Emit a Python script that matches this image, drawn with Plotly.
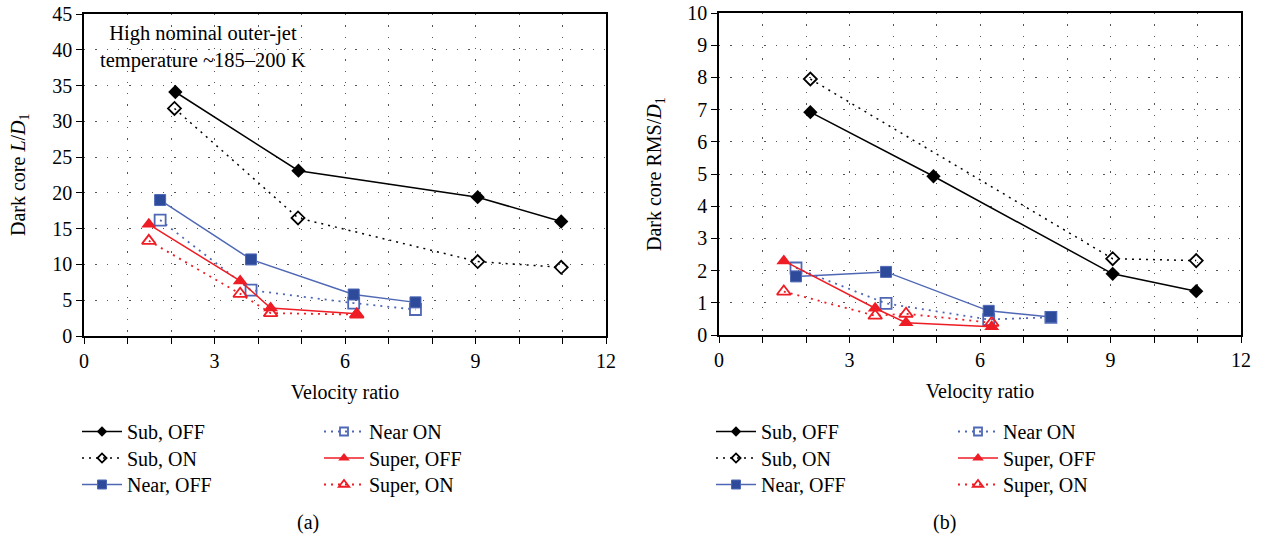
import plotly.graph_objects as go

# ---------------- data ----------------
# Panel (a): Dark core L/D1
a_sub_off_x = [2.1, 4.93, 9.05, 10.97]
a_sub_off_y = [34.1, 23.1, 19.4, 16.0]
a_sub_on_x = [2.08, 4.92, 9.05, 10.97]
a_sub_on_y = [31.8, 16.5, 10.4, 9.6]
a_near_off_x = [1.75, 3.84, 6.2, 7.62]
a_near_off_y = [19.0, 10.7, 5.8, 4.7]
a_near_on_x = [1.75, 3.84, 6.2, 7.62]
a_near_on_y = [16.2, 6.4, 4.6, 3.7]
a_super_off_x = [1.49, 3.59, 4.29, 6.27]
a_super_off_y = [15.6, 7.7, 3.9, 3.1]
a_super_on_x = [1.49, 3.59, 4.29, 6.27]
a_super_on_y = [13.3, 5.9, 3.2, 3.0]

# Panel (b): Dark core RMS/D1
b_sub_off_x = [2.1, 4.93, 9.05, 10.97]
b_sub_off_y = [6.92, 4.93, 1.9, 1.36]
b_sub_on_x = [2.1, 9.05, 10.97]
b_sub_on_y = [7.95, 2.37, 2.31]
b_near_off_x = [1.77, 3.84, 6.2, 7.63]
b_near_off_y = [1.82, 1.96, 0.75, 0.56]
b_near_on_x = [1.77, 3.84, 6.2, 7.63]
b_near_on_y = [2.08, 0.98, 0.48, 0.55]
b_super_off_x = [1.49, 3.59, 4.3, 6.27]
b_super_off_y = [2.3, 0.83, 0.38, 0.26]
b_super_on_x = [1.49, 3.59, 4.3, 6.27]
b_super_on_y = [1.35, 0.6, 0.66, 0.38]

names = ["Sub, OFF", "Sub, ON", "Near, OFF", "Near ON", "Super, OFF", "Super, ON"]
x_ticks = [0, 3, 6, 9, 12]

# ---------------- styles ----------------
BLACK = "#000000"
BLUE_M = "#2E4B9B"
BLUE_L = "#4F68B5"
RED = "#EE1C24"
DOT = "2px,5px"
FONT = "Times New Roman, Liberation Serif, DejaVu Serif, serif"

line_styles = [
    dict(color=BLACK, width=1.5),
    dict(color=BLACK, width=1.5, dash=DOT),
    dict(color=BLUE_L, width=1.5),
    dict(color=BLUE_L, width=1.8, dash=DOT),
    dict(color=RED, width=1.5),
    dict(color=RED, width=1.8, dash=DOT),
]
marker_styles = [
    dict(symbol="diamond", color=BLACK),
    dict(symbol="diamond-open", color=BLACK, line=dict(width=1.8, color=BLACK)),
    dict(symbol="square", color=BLUE_M, line=dict(width=1, color=BLUE_L)),
    dict(symbol="square-open", color=BLUE_L, line=dict(width=1.8, color=BLUE_L)),
    dict(symbol="triangle-up", color=RED),
    dict(symbol="triangle-up-open", color=RED, line=dict(width=1.8, color=RED)),
]
plot_sizes = [11, 10, 11, 11, 13, 12]
legend_sizes = [8, 7, 9, 8, 10, 9]

panel_a = [(a_sub_off_x, a_sub_off_y), (a_sub_on_x, a_sub_on_y), (a_near_off_x, a_near_off_y),
           (a_near_on_x, a_near_on_y), (a_super_off_x, a_super_off_y), (a_super_on_x, a_super_on_y)]
panel_b = [(b_sub_off_x, b_sub_off_y), (b_sub_on_x, b_sub_on_y), (b_near_off_x, b_near_off_y),
           (b_near_on_x, b_near_on_y), (b_super_off_x, b_super_off_y), (b_super_on_x, b_super_on_y)]

fig = go.Figure()
W, H = 1261, 539

# legend rows: row r shows entries (r, r+3)
row_of = [0, 1, 2, 0, 1, 2]
order = [1, 3, 5, 0, 2, 4]
for panel, xa, ya, legs in [(panel_a, "x", "y", ("legend", "legend2", "legend3")),
                            (panel_b, "x2", "y2", ("legend4", "legend5", "legend6"))]:
    for i in order:
        xs, ys = panel[i]
        fig.add_trace(go.Scatter(
            x=xs, y=ys, mode="lines+markers", name=names[i],
            line=line_styles[i], marker=dict(marker_styles[i], size=plot_sizes[i]),
            xaxis=xa, yaxis=ya, showlegend=False,
        ))
    # legend entries (smaller symbols, as in the reference key)
    for i in range(6):
        fig.add_trace(go.Scatter(
            x=[None], y=[None], mode="lines+markers", name=names[i],
            line=line_styles[i], marker=dict(marker_styles[i], size=legend_sizes[i]),
            xaxis=xa, yaxis=ya, showlegend=True,
            legend=legs[row_of[i]], legendrank=i,
        ))

def px_x(p):
    return p / W

def px_y(p):
    return 1 - p / H

GRID = dict(gridcolor="#555555", gridwidth=1.3, griddash="1.3px,10px")
axis_common = dict(
    showline=True, linecolor=BLACK, linewidth=1.5, mirror=True, automargin=False,
    ticks="outside", ticklen=6, tickwidth=1.2, tickcolor=BLACK,
    showgrid=True, zeroline=False, tickfont=dict(family=FONT, size=20, color=BLACK),
    **GRID,
)

xa_common = dict(axis_common, range=[0, 12], tickvals=x_ticks,
                 minor=dict(dtick=1, tick0=0, ticks="outside", ticklen=6, tickcolor=BLACK,
                            showgrid=True, **GRID),
                 title=dict(text="Velocity ratio", font=dict(family=FONT, size=20, color=BLACK), standoff=14))

fig.update_layout(
    template="none",
    width=W, height=H,
    margin=dict(l=0, r=0, t=0, b=0, autoexpand=False),
    paper_bgcolor="white", plot_bgcolor="white",
    font=dict(family=FONT, size=20, color=BLACK),
    xaxis=dict(xa_common, domain=[px_x(84), px_x(606)], anchor="y"),
    yaxis=dict(axis_common, domain=[px_y(336), px_y(14)], range=[0, 45], dtick=5, anchor="x"),
    xaxis2=dict(xa_common, domain=[px_x(719), px_x(1241)], anchor="y2"),
    yaxis2=dict(axis_common, domain=[px_y(335), px_y(13)], range=[0, 10], dtick=1, anchor="x2"),
)

leg_common = dict(orientation="h", yanchor="top", xanchor="left", bgcolor="rgba(0,0,0,0)",
                  font=dict(family=FONT, size=20, color=BLACK), itemwidth=40,
                  entrywidthmode="pixels", entrywidth=187,
                  traceorder="normal", itemclick=False, itemdoubleclick=False)
row_tops = [412, 438.5, 465]
for r in range(3):
    fig.update_layout({
        ("legend" if r == 0 else f"legend{r + 1}"): dict(leg_common, x=px_x(77), y=px_y(row_tops[r])),
        f"legend{r + 4}": dict(leg_common, x=px_x(711), y=px_y(row_tops[r])),
    })

ann_font = dict(family=FONT, size=20, color=BLACK)
fig.add_annotation(text="Dark core <i>L</i>/<i>D</i><sub>1</sub>", textangle=-90,
                   xref="paper", yref="paper", x=px_x(19), y=px_y(175),
                   showarrow=False, xanchor="center", yanchor="middle", font=ann_font)
fig.add_annotation(text="Dark core RMS/<i>D</i><sub>1</sub>", textangle=-90,
                   xref="paper", yref="paper", x=px_x(655), y=px_y(174),
                   showarrow=False, xanchor="center", yanchor="middle", font=ann_font)
fig.add_annotation(text="High nominal outer-jet<br>temperature ~185–200 K",
                   xref="paper", yref="paper", x=px_x(203), y=px_y(47),
                   showarrow=False, xanchor="center", yanchor="middle",
                   font=dict(family=FONT, size=20.5, color=BLACK))
fig.add_annotation(text="(a)", xref="paper", yref="paper", x=px_x(308), y=px_y(522),
                   showarrow=False, xanchor="center", yanchor="middle", font=ann_font)
fig.add_annotation(text="(b)", xref="paper", yref="paper", x=px_x(944), y=px_y(522),
                   showarrow=False, xanchor="center", yanchor="middle", font=ann_font)

fig.write_html("out.html")
